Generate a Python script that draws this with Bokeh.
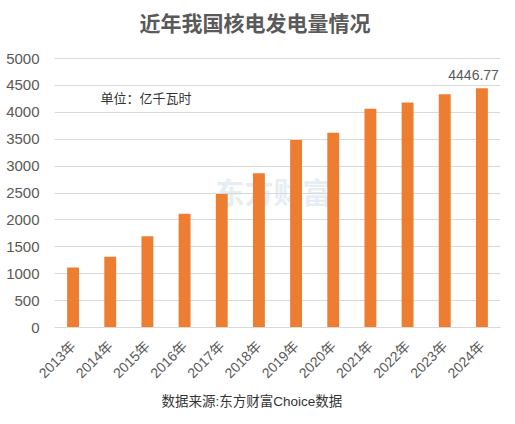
import math
from bokeh.plotting import figure
from bokeh.models import (ColumnDataSource, Range1d, FactorRange, Label, LabelSet,
                          FixedTicker, Title)
from bokeh.core.properties import value
from bokeh.embed import file_html
from bokeh.resources import INLINE

years = ["2013年", "2014年", "2015年", "2016年", "2017年", "2018年",
         "2019年", "2020年", "2021年", "2022年", "2023年", "2024年"]
generation = [1115, 1315, 1695, 2113, 2483, 2869, 3487, 3621, 4068, 4180, 4334, 4446.77]
y_ticks = [0, 500, 1000, 1500, 2000, 2500, 3000, 3500, 4000, 4500, 5000]
title_text = "近年我国核电发电量情况"
unit_text = "单位：亿千瓦时"
source_text = "数据来源:东方财富Choice数据"
watermark_text = "东方财富"
last_label = ["4446.77"]

FONT = "'Liberation Sans', 'Noto Sans CJK SC', sans-serif"
CJK = "'Noto Sans CJK SC', sans-serif"
TXT = "#595959"

# frame spans the whole height above the axis; 5000 sits 58px below the top
FRAME_H = 327
TOP_PAD = 58
y_end = y_ticks[-1] * FRAME_H / (FRAME_H - TOP_PAD)

p = figure(width=515, height=424, x_range=FactorRange(*years), y_range=Range1d(0, y_end),
           output_backend="svg", toolbar_location=None,
           min_border_left=54, min_border_right=15, min_border_top=0, min_border_bottom=97)
p.outline_line_color = None
p.background_fill_color = "white"

src = ColumnDataSource(dict(x=years, y=generation))

# faint watermark behind the bars
p.add_layout(Label(x=219, y=137, x_units="screen", y_units="screen", text=watermark_text,
                   text_font=CJK, text_font_size="29px", text_font_style="bold",
                   text_color="#e6edf4", text_align="center",
                   text_baseline="middle", level="image"))

p.vbar(x="x", top="y", width=0.32, source=src, color="#ED7D31", line_color=None)

p.yaxis.ticker = FixedTicker(ticks=y_ticks)
p.yaxis.axis_line_color = None
p.yaxis.major_tick_line_color = None
p.yaxis.minor_tick_line_color = None
p.yaxis.major_label_text_font = FONT
p.yaxis.major_label_text_font_size = "15px"
p.yaxis.major_label_text_color = TXT
p.yaxis.major_label_standoff = 9

p.xaxis.axis_line_color = "#d9d9d9"
p.xaxis.major_tick_line_color = None
p.xaxis.minor_tick_line_color = None
p.xaxis.major_label_orientation = math.pi / 4
p.xaxis.major_label_text_font = FONT
p.xaxis.major_label_text_font_size = "14px"
p.xaxis.major_label_text_color = TXT
p.xaxis.major_label_standoff = 10

p.xgrid.grid_line_color = None
p.ygrid.grid_line_color = "#d9d9d9"
p.ygrid.grid_line_width = 1

lab_src = ColumnDataSource(dict(x=years[-1:], y=generation[-1:], t=last_label))
p.add_layout(LabelSet(x="x", y="y", text="t", source=lab_src, y_offset=8, x_offset=17,
                      text_font=value(FONT), text_font_size="14px", text_color=TXT,
                      text_align="right", text_baseline="bottom"))

p.add_layout(Label(x=46, y=230, x_units="screen", y_units="screen", text=unit_text,
                   text_font=CJK, text_font_size="13px", text_color="#333333",
                   text_baseline="middle"))

p.add_layout(Label(x=85, y=306, x_units="screen", y_units="screen", text=title_text,
                   text_font=CJK, text_font_size="21px", text_font_style="bold",
                   text_color=TXT, text_align="left", text_baseline="middle"))

src_title = Title(text=source_text, align="left", offset=107, text_font=FONT,
                  text_font_size="13.5px", text_font_style="normal", text_color="#333333",
                  standoff=5)
p.add_layout(src_title, "below")

open("out.html", "w").write(file_html(p, INLINE))
